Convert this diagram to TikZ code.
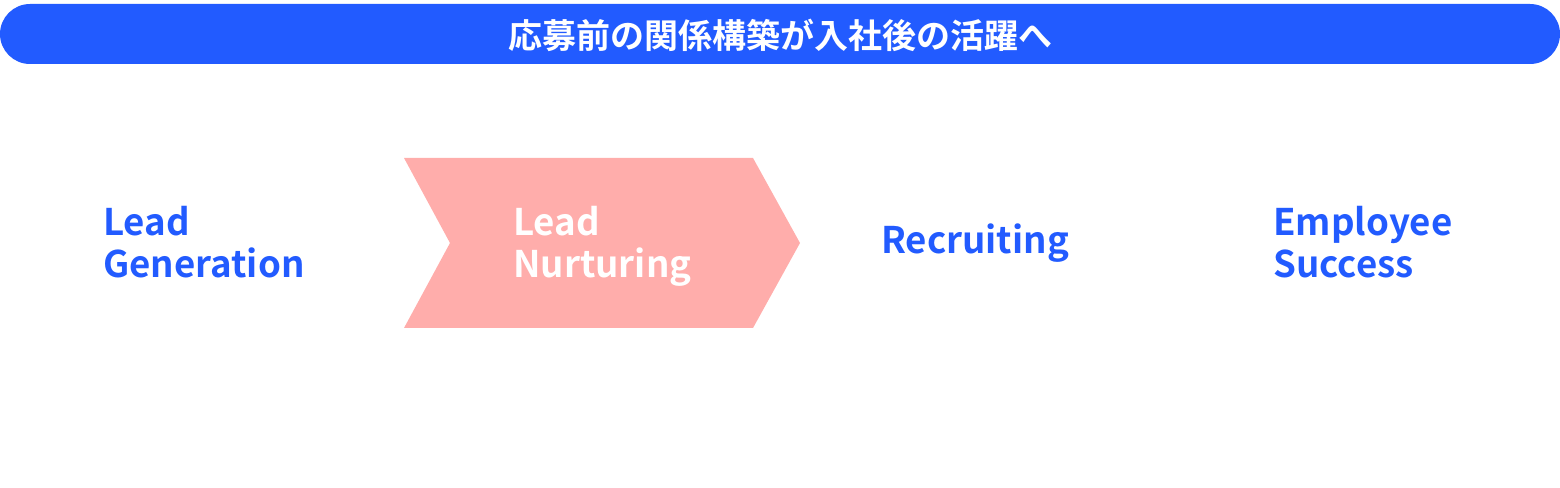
\documentclass[tikz,border=0pt]{standalone}
\usepackage{fontspec}
\setmainfont{Noto Sans CJK JP}[BoldFont={Noto Sans CJK JP Bold}]
\definecolor{mainblue}{HTML}{225BFF}
\definecolor{pinkfill}{HTML}{FFADAB}
\begin{document}
\begin{tikzpicture}[x=0.75pt,y=-0.75pt,
  stage/.style={anchor=west,inner sep=0pt,align=left,font=\bfseries\fontsize{27.5}{31.5}\selectfont,text=mainblue},
  header/.style={inner sep=0pt,font=\bfseries\fontsize{25.5}{28}\selectfont,text=white}]
\useasboundingbox (0,0) rectangle (1560,488);
\fill[mainblue,rounded corners=22.5pt] (0,4) rectangle (1560,64);
\node[header] (title) at (780,35) {応募前の関係構築が入社後の活躍へ};
\fill[pinkfill] (404,158) -- (753,158) -- (800,243) -- (753,328) -- (404,328) -- (450,243) -- cycle;
\node[stage] (lg) at (103,246) {Lead\\Generation\vphantom{g}};
\node[stage,text=white] (ln) at (513,246) {Lead\\Nurturing};
\node[stage] (rc) at (881,243) {Recruiting};
\node[stage] (es) at (1273,246) {Employee\\Success\vphantom{g}};
\end{tikzpicture}
\end{document}
